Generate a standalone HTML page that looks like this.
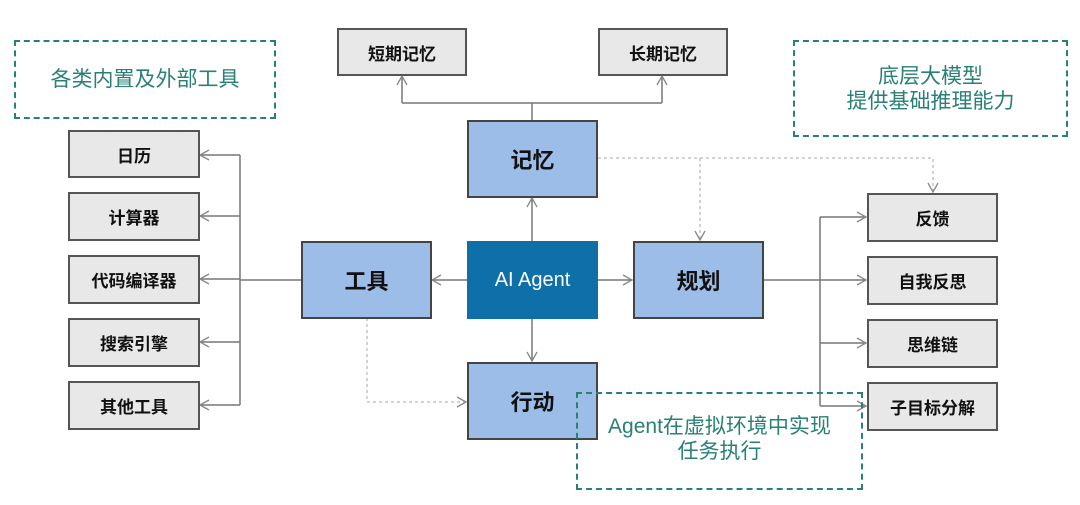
<!DOCTYPE html>
<html><head><meta charset="utf-8"><style>
body{margin:0;background:#fff;width:1080px;height:505px;overflow:hidden;position:relative;font-family:"Liberation Sans","Noto Sans CJK SC",sans-serif}
.b{position:absolute;box-sizing:border-box;display:flex;align-items:center;justify-content:center;text-align:center;font-weight:bold;color:#111}
.g{background:#e8e8e8;border:2px solid #555;font-size:17px}
.m{background:#9dbde9;border:2px solid #444;font-size:22px}
.d{border:2.5px dashed #2a8075;color:#2a8075;font-weight:normal;font-size:21px;line-height:25px}
</style></head><body>
<svg width="1080" height="505" style="position:absolute;left:0;top:0">
<defs><marker id="a" markerWidth="12" markerHeight="12" refX="10" refY="6" orient="auto" markerUnits="userSpaceOnUse"><path d="M1,1 L10,6 L1,11" fill="none" stroke="#888" stroke-width="1.3"/></marker></defs>
<g stroke="#777" stroke-width="1.5" fill="none">
<path d="M532,120V103"/><path d="M402,103H662"/>
<path d="M402,103V76" marker-end="url(#a)"/><path d="M662,103V76" marker-end="url(#a)"/>
<path d="M532,241V198" marker-end="url(#a)"/>
<path d="M532,318V361" marker-end="url(#a)"/>
<path d="M597,280H632" marker-end="url(#a)"/>
<path d="M467,280H432" marker-end="url(#a)"/>
<path d="M301,280H240"/><path d="M240,155V405"/>
<path d="M240,155H200" marker-end="url(#a)"/><path d="M240,216H200" marker-end="url(#a)"/><path d="M240,279H200" marker-end="url(#a)"/><path d="M240,342H200" marker-end="url(#a)"/><path d="M240,405H200" marker-end="url(#a)"/>
<path d="M763,280H866" marker-end="url(#a)"/><path d="M820,217V406"/>
<path d="M820,217H866" marker-end="url(#a)"/><path d="M820,343H866" marker-end="url(#a)"/><path d="M820,406H866" marker-end="url(#a)"/>
</g>
<g stroke="#bbb" stroke-width="1.3" fill="none" stroke-dasharray="3,3">
<path d="M598,158H933V192" marker-end="url(#a)"/><path d="M700,158V240" marker-end="url(#a)"/>
<path d="M367,318V402H466" marker-end="url(#a)"/>
</g>
</svg>
<div class="b d" style="left:14px;top:40px;width:262px;height:79px">各类内置及外部工具</div>
<div class="b d" style="left:793px;top:40px;width:275px;height:97px">底层大模型<br>提供基础推理能力</div>
<div class="b g" style="left:337px;top:28px;width:130px;height:48px">短期记忆</div>
<div class="b g" style="left:598px;top:28px;width:130px;height:48px">长期记忆</div>
<div class="b m" style="left:467px;top:120px;width:131px;height:78px">记忆</div>
<div class="b m" style="left:301px;top:241px;width:131px;height:78px">工具</div>
<div class="b" style="left:467px;top:241px;width:131px;height:78px;background:#0f6fa8;color:#fff;font-size:20px;font-weight:normal">AI Agent</div>
<div class="b m" style="left:633px;top:241px;width:131px;height:78px">规划</div>
<div class="b m" style="left:467px;top:362px;width:131px;height:78px">行动</div>
<div class="b g" style="left:68px;top:130px;width:132px;height:48px">日历</div>
<div class="b g" style="left:68px;top:192px;width:132px;height:49px">计算器</div>
<div class="b g" style="left:68px;top:255px;width:132px;height:49px">代码编译器</div>
<div class="b g" style="left:68px;top:318px;width:132px;height:49px">搜索引擎</div>
<div class="b g" style="left:68px;top:381px;width:132px;height:49px">其他工具</div>
<div class="b g" style="left:867px;top:193px;width:131px;height:49px">反馈</div>
<div class="b g" style="left:867px;top:256px;width:131px;height:49px">自我反思</div>
<div class="b g" style="left:867px;top:319px;width:131px;height:49px">思维链</div>
<div class="b g" style="left:867px;top:382px;width:131px;height:49px">子目标分解</div>
<div class="b d" style="left:576px;top:392px;width:287px;height:98px;align-items:flex-start;padding-top:20px">Agent在虚拟环境中实现<br>任务执行</div>
</body></html>
